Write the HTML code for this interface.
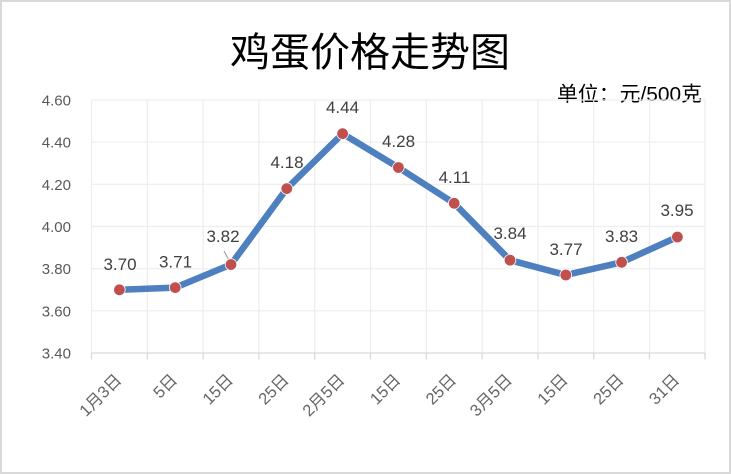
<!DOCTYPE html>
<html><head><meta charset="utf-8"><style>
html,body{margin:0;padding:0;background:#fff;}
svg{display:block;}
</style></head><body>
<svg width="731" height="474" viewBox="0 0 731 474" xmlns="http://www.w3.org/2000/svg">
<rect x="1" y="1" width="729" height="472" fill="#fff" stroke="#d9d9d9" stroke-width="2"/>
<text x="370" y="66" text-anchor="middle" font-family="'Liberation Sans','Noto Sans CJK SC',sans-serif" font-size="40" fill="#000">鸡蛋价格走势图</text>
<text x="557" y="101" font-family="'Liberation Sans','Noto Sans CJK SC',sans-serif" font-size="20.5" fill="#000" textLength="145" lengthAdjust="spacingAndGlyphs">单位：元/500克</text>
<g stroke="#ededed" stroke-width="1.2">
<line x1="91.5" y1="100" x2="705" y2="100"/>
<line x1="91.5" y1="142.2" x2="705" y2="142.2"/>
<line x1="91.5" y1="184.3" x2="705" y2="184.3"/>
<line x1="91.5" y1="226.5" x2="705" y2="226.5"/>
<line x1="91.5" y1="268.7" x2="705" y2="268.7"/>
<line x1="91.5" y1="310.8" x2="705" y2="310.8"/>
<line x1="91.5" y1="100" x2="91.5" y2="353"/>
<line x1="147.3" y1="100" x2="147.3" y2="353"/>
<line x1="203.1" y1="100" x2="203.1" y2="353"/>
<line x1="258.9" y1="100" x2="258.9" y2="353"/>
<line x1="314.7" y1="100" x2="314.7" y2="353"/>
<line x1="370.5" y1="100" x2="370.5" y2="353"/>
<line x1="426.3" y1="100" x2="426.3" y2="353"/>
<line x1="482.1" y1="100" x2="482.1" y2="353"/>
<line x1="537.9" y1="100" x2="537.9" y2="353"/>
<line x1="593.7" y1="100" x2="593.7" y2="353"/>
<line x1="649.5" y1="100" x2="649.5" y2="353"/>
<line x1="705" y1="100" x2="705" y2="353"/>
</g>
<g stroke="#d9d9d9" stroke-width="1.3">
<line x1="91.5" y1="353" x2="705" y2="353"/>
<line x1="91.5" y1="353" x2="91.5" y2="359.5"/>
<line x1="147.3" y1="353" x2="147.3" y2="359.5"/>
<line x1="203.1" y1="353" x2="203.1" y2="359.5"/>
<line x1="258.9" y1="353" x2="258.9" y2="359.5"/>
<line x1="314.7" y1="353" x2="314.7" y2="359.5"/>
<line x1="370.5" y1="353" x2="370.5" y2="359.5"/>
<line x1="426.3" y1="353" x2="426.3" y2="359.5"/>
<line x1="482.1" y1="353" x2="482.1" y2="359.5"/>
<line x1="537.9" y1="353" x2="537.9" y2="359.5"/>
<line x1="593.7" y1="353" x2="593.7" y2="359.5"/>
<line x1="649.5" y1="353" x2="649.5" y2="359.5"/>
<line x1="705" y1="353" x2="705" y2="359.5"/>
</g>
<g font-family="'Liberation Sans',sans-serif" font-size="15" fill="#595959" text-anchor="end">
<text x="71" y="105.5">4.60</text>
<text x="71" y="147.7">4.40</text>
<text x="71" y="189.8">4.20</text>
<text x="71" y="232">4.00</text>
<text x="71" y="274.2">3.80</text>
<text x="71" y="316.3">3.60</text>
<text x="71" y="358.5">3.40</text>
</g>
<g font-family="'Liberation Sans','Noto Sans CJK SC',sans-serif" font-size="16.5" fill="#666666" text-anchor="end">
<text transform="translate(122.4,381) rotate(-45)">1月3日</text>
<text transform="translate(178.2,381) rotate(-45)">5日</text>
<text transform="translate(234,381) rotate(-45)">15日</text>
<text transform="translate(289.8,381) rotate(-45)">25日</text>
<text transform="translate(345.6,381) rotate(-45)">2月5日</text>
<text transform="translate(401.4,381) rotate(-45)">15日</text>
<text transform="translate(457.2,381) rotate(-45)">25日</text>
<text transform="translate(513,381) rotate(-45)">3月5日</text>
<text transform="translate(568.8,381) rotate(-45)">15日</text>
<text transform="translate(624.6,381) rotate(-45)">25日</text>
<text transform="translate(680.4,381) rotate(-45)">31日</text>
</g>
<line x1="224" y1="251" x2="230" y2="262" stroke="#a6a6a6" stroke-width="1.2"/>
<polyline fill="none" stroke="#4e80bf" stroke-width="6.5" stroke-linejoin="round" stroke-linecap="round"
points="119.4,289.8 175.2,287.6 231,264.5 286.8,188.6 342.6,133.7 398.4,167.5 454.2,203.3 510,260.2 565.8,275 621.6,262.3 677.4,237"/>
<g fill="#c0504d" stroke="#fff" stroke-width="0.8">
<circle cx="119.4" cy="289.8" r="5.8"/>
<circle cx="175.2" cy="287.6" r="5.8"/>
<circle cx="231" cy="264.5" r="5.8"/>
<circle cx="286.8" cy="188.6" r="5.8"/>
<circle cx="342.6" cy="133.7" r="5.8"/>
<circle cx="398.4" cy="167.5" r="5.8"/>
<circle cx="454.2" cy="203.3" r="5.8"/>
<circle cx="510" cy="260.2" r="5.8"/>
<circle cx="565.8" cy="275" r="5.8"/>
<circle cx="621.6" cy="262.3" r="5.8"/>
<circle cx="677.4" cy="237" r="5.8"/>
</g>
<g font-family="'Liberation Sans',sans-serif" font-size="17" fill="#404040" text-anchor="middle">
<text x="120" y="270">3.70</text>
<text x="175.5" y="267.5">3.71</text>
<text x="223" y="242">3.82</text>
<text x="287" y="168">4.18</text>
<text x="342.5" y="113">4.44</text>
<text x="398.5" y="147">4.28</text>
<text x="454.5" y="183">4.11</text>
<text x="510" y="239">3.84</text>
<text x="566" y="255">3.77</text>
<text x="621.6" y="242">3.83</text>
<text x="677" y="216">3.95</text>
</g>
</svg>
</body></html>
